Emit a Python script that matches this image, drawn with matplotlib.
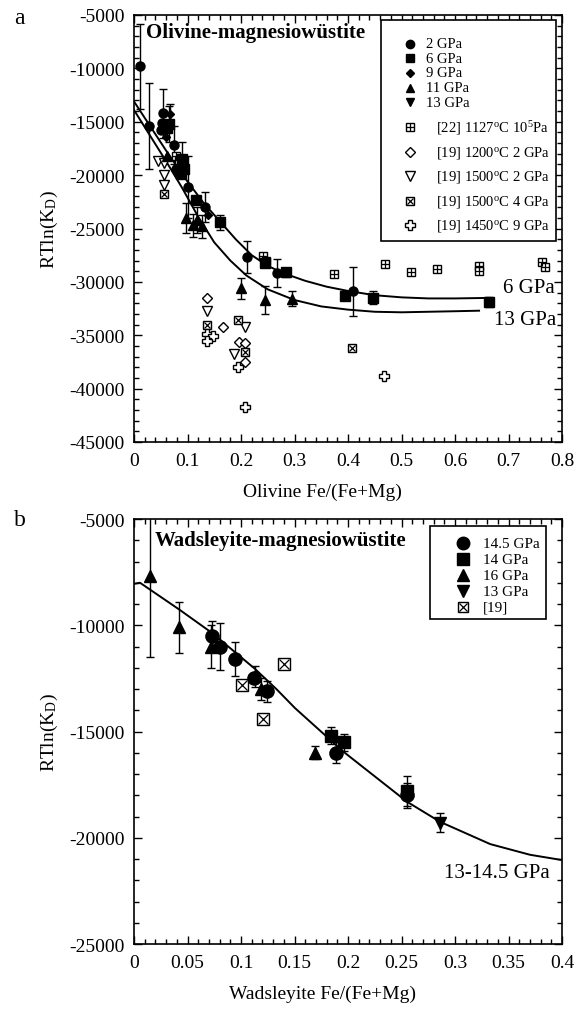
import numpy as np
import matplotlib.pyplot as plt
from matplotlib.patches import Rectangle
from matplotlib.ticker import MultipleLocator, FuncFormatter

plt.rcParams['font.family'] = ['Liberation Serif', 'DejaVu Serif']
plt.rcParams['mathtext.fontset'] = 'custom'
plt.rcParams['mathtext.rm'] = 'Liberation Serif'
plt.rcParams['mathtext.it'] = 'Liberation Serif:italic'
plt.rcParams['mathtext.bf'] = 'Liberation Serif:bold'
plt.rcParams['axes.unicode_minus'] = False

# ---------------- panel a : olivine - magnesiowustite ----------------
ol_2gpa_x = [0.011, 0.028, 0.055, 0.053, 0.050, 0.075, 0.078, 0.084, 0.100, 0.133, 0.212, 0.268, 0.409]
ol_2gpa_y = [-9800, -15400, -14200, -15100, -15800, -17200, -19400, -19900, -21100, -23000, -27700, -29200, -30900]
ol_2gpa_e = [4000, 4000, 2300, 0, 0, 1800, 0, 0, 2900, 1400, 1500, 1300, 2300]

ol_6gpa_x = [0.061, 0.065, 0.090, 0.093, 0.087, 0.116, 0.160, 0.244, 0.284, 0.394, 0.446, 0.664]
ol_6gpa_y = [-15600, -15200, -18500, -19400, -19900, -22300, -24400, -28200, -29100, -31300, -31500, -31900]
ol_6gpa_e = [0, 1700, 1600, 0, 0, 0, 700, 0, 400, 0, 600, 500]

ol_9gpa_x = [0.067, 0.060, 0.139]
ol_9gpa_y = [-14300, -16400, -23700]
ol_9gpa_e = [1000, 0, 0]

ol_11gpa_x = [0.062, 0.097, 0.110, 0.118, 0.128, 0.200, 0.244, 0.296]
ol_11gpa_y = [-18200, -24000, -24700, -24200, -24800, -30600, -31700, -31600]
ol_11gpa_e = [0, 1400, 1100, 1200, 1100, 1000, 1300, 700]

ol_13gpa_x = [0.082]
ol_13gpa_y = [-19600]
ol_13gpa_e = [0]

ref22_x = [0.079, 0.084, 0.242, 0.247, 0.374, 0.470, 0.518, 0.567, 0.644, 0.644, 0.762, 0.768]
ref22_y = [-18200, -18600, -27600, -28000, -29300, -28300, -29100, -28800, -28500, -29000, -28100, -28600]

ref19_1200_x = [0.137, 0.167, 0.196, 0.207, 0.207]
ref19_1200_y = [-31500, -34200, -35600, -35700, -37500]

ref19_1500_2_x = [0.045, 0.057, 0.056, 0.056, 0.137, 0.207, 0.187]
ref19_1500_2_y = [-18700, -18900, -20000, -20900, -32700, -34200, -36800]

ref19_1500_4_x = [0.056, 0.136, 0.195, 0.207, 0.408]
ref19_1500_4_y = [-21800, -34000, -33600, -36600, -36200]

ref19_1450_9_x = [0.137, 0.147, 0.137, 0.195, 0.207, 0.468]
ref19_1450_9_y = [-34900, -35100, -35500, -38000, -41700, -38800]

fit6_x = [0.0, 0.03, 0.06, 0.10, 0.13, 0.16, 0.19, 0.22, 0.25, 0.28, 0.32, 0.36, 0.40, 0.45, 0.50, 0.55, 0.60, 0.665]
fit6_y = [-13100, -15400, -17700, -20600, -22600, -24300, -26000, -27500, -28500, -29200, -29900, -30450,
          -30850, -31250, -31450, -31550, -31550, -31500]
fit13_x = [0.0, 0.03, 0.06, 0.09, 0.12, 0.15, 0.18, 0.21, 0.25, 0.30, 0.35, 0.40, 0.45, 0.50, 0.55, 0.60, 0.645]
fit13_y = [-13900, -16300, -18700, -21200, -23900, -26300, -28000, -29400, -30700, -31700, -32300, -32600,
           -32800, -32850, -32800, -32750, -32700]

# ---------------- panel b : wadsleyite - magnesiowustite ----------------
wd_145_x = [0.0726, 0.080, 0.094, 0.112, 0.124, 0.189, 0.255]
wd_145_y = [-10500, -11000, -11600, -12500, -13100, -16000, -18000]
wd_145_e = [700, 1100, 800, 0, 500, 500, 600]

wd_14_x = [0.184, 0.196, 0.255]
wd_14_y = [-15200, -15500, -17800]
wd_14_e = [400, 400, 700]

wd_16_x = [0.015, 0.042, 0.072, 0.113, 0.119, 0.169]
wd_16_y = [-7700, -10100, -11000, -12400, -13000, -16000]
wd_16_e = [3800, 1200, 1000, 500, 500, 300]

wd_13_x = [0.286]
wd_13_y = [-19300]
wd_13_e = [450]

wd_ref19_x = [0.1006, 0.140, 0.121]
wd_ref19_y = [-12800, -11800, -14400]

fitw_x = [0.0, 0.0056, 0.042, 0.0726, 0.113, 0.133, 0.1505, 0.1957, 0.255, 0.286, 0.333, 0.370, 0.40]
fitw_y = [-8050, -8000, -9250, -10350, -12050, -13000, -13900, -15950, -18300, -19250, -20300, -20800, -21050]


def plot_points(ax, x, y, marker, ms, filled=True, err=None, overlay=None, ov_ms=None):
    x = np.asarray(x)
    y = np.asarray(y)
    if err is not None:
        err = np.asarray(err)
        m = err > 0
        if m.any():
            ax.errorbar(x[m], y[m], yerr=err[m], fmt='none', ecolor='k',
                        elinewidth=1.0, capsize=3, capthick=1.0, zorder=2)
    ax.plot(x, y, linestyle='none', marker=marker, ms=ms,
            mfc='k' if filled else 'white', mec='k', mew=1.0, zorder=3)
    if overlay:
        ax.plot(x, y, linestyle='none', marker=overlay, ms=ov_ms or ms * 0.8,
                mec='k', mew=0.9, zorder=4)


def legend_entry(ax, xm, xt, yy, marker, ms, label, fs, filled=True, overlay=None, ov_ms=None):
    ax.plot([xm], [yy], transform=ax.transAxes, linestyle='none', marker=marker, ms=ms,
            mfc='k' if filled else 'white', mec='k', mew=1.0, clip_on=False, zorder=6)
    if overlay:
        ax.plot([xm], [yy], transform=ax.transAxes, linestyle='none', marker=overlay,
                ms=ov_ms or ms * 0.8, mec='k', mew=0.9, clip_on=False, zorder=7)
    ax.text(xt, yy, label, transform=ax.transAxes, fontsize=fs, va='center', ha='left', zorder=7)


def style_axes(ax, xmaj, xmin, ymaj, ymin):
    ax.xaxis.set_major_locator(MultipleLocator(xmaj))
    ax.xaxis.set_minor_locator(MultipleLocator(xmin))
    ax.yaxis.set_major_locator(MultipleLocator(ymaj))
    ax.yaxis.set_minor_locator(MultipleLocator(ymin))
    ax.xaxis.set_major_formatter(FuncFormatter(lambda v, _: '0' if abs(v) < 1e-9 else f'{v:g}'))
    ax.yaxis.set_major_formatter(FuncFormatter(lambda v, _: f'{int(round(v))}'))
    ax.tick_params(which='both', direction='in', top=True, right=True, labelsize=14, width=1.0)
    ax.tick_params(which='major', length=6, pad=7)
    ax.tick_params(which='minor', length=3.5)
    for s in ax.spines.values():
        s.set_linewidth(1.2)


fig = plt.figure(figsize=(5.78, 10.12), dpi=100)
ax1 = fig.add_axes([134 / 578, 1 - 443 / 1012, 428 / 578, 427 / 1012])
ax2 = fig.add_axes([134 / 578, 1 - 945 / 1012, 428 / 578, 425 / 1012])

# ---- panel a
ax1.plot(fit6_x, fit6_y, color='k', lw=1.4, zorder=1)
ax1.plot(fit13_x, fit13_y, color='k', lw=1.4, zorder=1)

plot_points(ax1, ref22_x, ref22_y, 's', 6, filled=False, overlay='+', ov_ms=6)
plot_points(ax1, ref19_1200_x, ref19_1200_y, 'D', 5, filled=False)
plot_points(ax1, ref19_1500_2_x, ref19_1500_2_y, 'v', 7, filled=False)
plot_points(ax1, ref19_1500_4_x, ref19_1500_4_y, 's', 6, filled=False, overlay='x', ov_ms=5)
plot_points(ax1, ref19_1450_9_x, ref19_1450_9_y, 'P', 7, filled=False)
plot_points(ax1, ol_2gpa_x, ol_2gpa_y, 'o', 6.5, err=ol_2gpa_e)
plot_points(ax1, ol_6gpa_x, ol_6gpa_y, 's', 6.5, err=ol_6gpa_e)
plot_points(ax1, ol_9gpa_x, ol_9gpa_y, 'D', 4.5, err=ol_9gpa_e)
plot_points(ax1, ol_11gpa_x, ol_11gpa_y, '^', 6.5, err=ol_11gpa_e)
plot_points(ax1, ol_13gpa_x, ol_13gpa_y, 'v', 6.5, err=ol_13gpa_e)

ax1.set_xlim(0, 0.8)
ax1.set_ylim(-45000, -5000)
style_axes(ax1, 0.1, 0.02, 5000, 1000)
ax1.set_xlabel('Olivine Fe/(Fe+Mg)', fontsize=14, labelpad=6)
ax1.xaxis.set_label_coords(0.44, -0.095)
ax1.set_ylabel(r'RTln(K$_{\rm D}$)', fontsize=14, labelpad=6)

ax1.text(0.028, 0.96, 'Olivine-magnesiowüstite', transform=ax1.transAxes,
         fontsize=15, fontweight='bold', va='center', ha='left')
ax1.text(0.984, 0.361, '6 GPa', transform=ax1.transAxes, fontsize=15, va='center', ha='right')
ax1.text(0.986, 0.286, '13 GPa', transform=ax1.transAxes, fontsize=15, va='center', ha='right')

ax1.add_patch(Rectangle((0.577, 0.471), 0.409, 0.517, transform=ax1.transAxes,
                        facecolor='white', edgecolor='k', lw=1.2, zorder=5))
rows_a = [1 - (py - 16) / 427 for py in [44.5, 59.2, 73.9, 88.6, 103.3]]
legend_entry(ax1, 0.645, 0.682, rows_a[0], 'o', 6, '2 GPa', 10.5)
legend_entry(ax1, 0.645, 0.682, rows_a[1], 's', 6, '6 GPa', 10.5)
legend_entry(ax1, 0.645, 0.682, rows_a[2], 'D', 4, '9 GPa', 10.5)
legend_entry(ax1, 0.645, 0.682, rows_a[3], '^', 6, '11 GPa', 10.5)
legend_entry(ax1, 0.645, 0.682, rows_a[4], 'v', 6, '13 GPa', 10.5)
rows_r = [1 - (py - 16) / 427 for py in [128.3, 152.8, 177.3, 201.8, 226.3]]
legend_entry(ax1, 0.645, 0.706, rows_r[0], 's', 6, r'[22] 1127$^{\rm o}$C 10$^{5}$Pa', 10.5,
             filled=False, overlay='+', ov_ms=6)
legend_entry(ax1, 0.645, 0.706, rows_r[1], 'D', 5, r'[19] 1200$^{\rm o}$C 2 GPa', 10.5, filled=False)
legend_entry(ax1, 0.645, 0.706, rows_r[2], 'v', 7, r'[19] 1500$^{\rm o}$C 2 GPa', 10.5, filled=False)
legend_entry(ax1, 0.645, 0.706, rows_r[3], 's', 6, r'[19] 1500$^{\rm o}$C 4 GPa', 10.5,
             filled=False, overlay='x', ov_ms=5)
legend_entry(ax1, 0.645, 0.706, rows_r[4], 'P', 7, r'[19] 1450$^{\rm o}$C 9 GPa', 10.5, filled=False)

# ---- panel b
ax2.plot(fitw_x, fitw_y, color='k', lw=1.4, zorder=1)
plot_points(ax2, wd_ref19_x, wd_ref19_y, 's', 8, filled=False, overlay='x', ov_ms=6.5)
plot_points(ax2, wd_145_x, wd_145_y, 'o', 9.5, err=wd_145_e)
plot_points(ax2, wd_14_x, wd_14_y, 's', 9, err=wd_14_e)
plot_points(ax2, wd_16_x, wd_16_y, '^', 8.5, err=wd_16_e)
plot_points(ax2, wd_13_x, wd_13_y, 'v', 8.5, err=wd_13_e)

ax2.set_xlim(0, 0.4)
ax2.set_ylim(-25000, -5000)
style_axes(ax2, 0.05, 0.01, 5000, 1000)
ax2.set_xlabel('Wadsleyite Fe/(Fe+Mg)', fontsize=14)
ax2.xaxis.set_label_coords(0.44, -0.095)
ax2.set_ylabel(r'RTln(K$_{\rm D}$)', fontsize=14, labelpad=6)

ax2.text(0.049, 0.951, 'Wadsleyite-magnesiowüstite', transform=ax2.transAxes,
         fontsize=15, fontweight='bold', va='center', ha='left')
ax2.text(0.972, 0.169, '13-14.5 GPa', transform=ax2.transAxes, fontsize=15, va='center', ha='right')

ax2.add_patch(Rectangle((0.692, 0.765), 0.271, 0.219, transform=ax2.transAxes,
                        facecolor='white', edgecolor='k', lw=1.2, zorder=5))
rows_b = [1 - (py - 520) / 425 for py in [544, 560, 576, 592, 608]]
legend_entry(ax2, 0.769, 0.815, rows_b[0], 'o', 9, '14.5 GPa', 11)
legend_entry(ax2, 0.769, 0.815, rows_b[1], 's', 8.5, '14 GPa', 11)
legend_entry(ax2, 0.769, 0.815, rows_b[2], '^', 8, '16 GPa', 11)
legend_entry(ax2, 0.769, 0.815, rows_b[3], 'v', 8, '13 GPa', 11)
legend_entry(ax2, 0.769, 0.815, rows_b[4], 's', 7, '[19]', 11, filled=False, overlay='x', ov_ms=5.5)

fig.text(14 / 578, 1 - 18 / 1012, 'a', fontsize=17, va='center', ha='left')
fig.text(14 / 578, 1 - 520 / 1012, 'b', fontsize=17, va='center', ha='left')

fig.savefig('out.png', dpi=100)
